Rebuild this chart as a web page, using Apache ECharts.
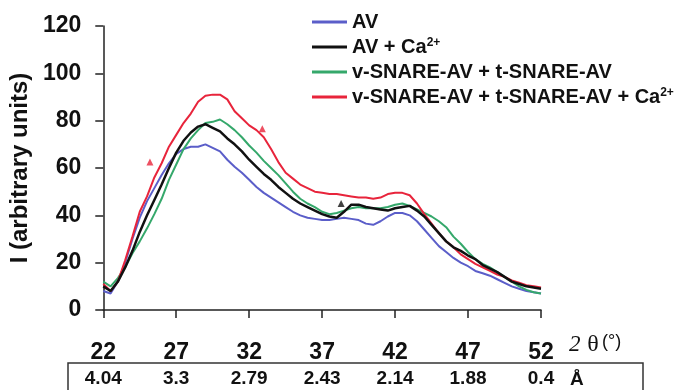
<!DOCTYPE html>
<html>
<head>
<meta charset="utf-8">
<script src="https://cdn.jsdelivr.net/npm/echarts@6/dist/echarts.min.js"></script>
<style>
  html, body { margin: 0; padding: 0; background: #fff; }
  #main { width: 696px; height: 390px; }
</style>
</head>
<body>
<div id="main"></div>
<script>
// 2θ positions (degrees)
const twoTheta = [22, 22.5, 23, 23.5, 24, 24.5, 25, 25.5, 26, 26.5, 27, 27.5, 28, 28.5, 29, 29.5, 30, 30.5, 31, 31.5,
  32, 32.5, 33, 33.5, 34, 34.5, 35, 35.5, 36, 36.5, 37, 37.5, 38, 38.5, 39, 39.5, 40, 40.5, 41, 41.5,
  42, 42.5, 43, 43.5, 44, 44.5, 45, 45.5, 46, 46.5, 47, 47.5, 48, 48.5, 49, 49.5, 50, 50.5, 51, 51.5, 52];

const av = [8, 7, 12, 20, 30, 39, 46, 51.5, 57, 62, 66, 68, 69, 69, 70, 68.5, 67, 63.5, 60.5, 58,
  55, 52, 49.5, 47.5, 45.5, 43.5, 41.5, 40, 39, 38.5, 38, 38, 38.5, 39, 38.5, 38, 36.5, 36, 37.5, 39.5,
  41, 41, 40, 37.5, 34, 30.5, 27, 24.5, 22, 20, 18.5, 16.5, 15.5, 14.5, 13, 11.5, 10, 9, 8, 7.5, 7];

const avCa = [10, 8, 12, 18, 25, 33, 40, 46.5, 53, 60, 66.5, 71.5, 75, 77.5, 78.5, 77, 75.5, 72.5, 70, 67,
  63.5, 60.5, 57.5, 55, 52, 49.5, 47, 45, 43.5, 42, 40.5, 39.5, 39, 41.5, 44.5, 44.5, 43.5, 43, 42.5, 42,
  43, 43.5, 44, 42, 39.5, 36, 32.5, 29, 26.5, 25, 23, 21.5, 19, 17.5, 16, 14, 12, 11, 10, 9.5, 9];

const vtSnare = [12, 10, 13.5, 18, 24, 29, 34.5, 40.5, 47, 55, 61.5, 68, 72.5, 76, 79, 79.5, 80.5, 78.5, 76, 73,
  69.5, 66.5, 63, 60, 57, 53.5, 50, 47, 45, 43.5, 41.5, 40.5, 41, 42, 43, 43.5, 43, 43, 43, 43.5,
  44.5, 45, 44, 42.5, 41, 39.5, 37.5, 35, 31, 28, 24.5, 21.5, 19.5, 18, 16, 14, 12, 10, 8.5, 7.5, 7];

const vtSnareCa = [11, 8, 12, 21, 31, 41.5, 48, 56, 62, 69, 74, 79, 83, 88, 90.5, 91, 91, 89, 84, 81,
  78, 76, 73, 68, 62.5, 58, 55.5, 53, 51.5, 50, 49.5, 49, 49, 48.5, 48, 47.5, 47.5, 47, 47.5, 49,
  49.5, 49.5, 48.5, 45, 40.5, 36.5, 32.5, 29, 26.5, 23.5, 21.5, 19.5, 18, 16.5, 15, 14, 12.5, 11.5, 10.5, 10, 9.5];

// arrow marks on the curves
const redMarks = [[25.2, 62.5], [32.9, 76.6]];
const blackMarks = [[38.3, 45]];

const xTicks = [22, 27, 32, 37, 42, 47, 52];
const dSpacing = ['4.04', '3.3', '2.79', '2.43', '2.14', '1.88', '0.4'];

const seriesNames = ['AV', 'AV + Ca2+', 'v-SNARE-AV + t-SNARE-AV', 'v-SNARE-AV + t-SNARE-AV + Ca2+'];

const pairs = (ys) => twoTheta.map((x, i) => [x, ys[i]]);

const chart = echarts.init(document.getElementById('main'), null, { renderer: 'canvas' });

const FONT = 'Liberation Sans, Arial, sans-serif';
const axisColor = '#222';

const line = (name, data, color, width) => ({
  name: name,
  type: 'line',
  xAxisIndex: 0,
  data: pairs(data),
  symbol: 'none',
  lineStyle: { color: color, width: width },
  itemStyle: { color: color },
  animation: false,
});

// every legend row gets the same rich structure so the rows are evenly spaced
const legendText = (name) =>
  name.endsWith('Ca2+') ? '{t|' + name.slice(0, -2) + '}{sup|2+}' : '{t|' + name + '}{sup| }';

const option = {
  backgroundColor: '#fff',
  animation: false,
  grid: { left: 101, right: 155, top: 26, bottom: 80 },
  legend: {
    data: seriesNames,
    orient: 'vertical',
    left: 307,
    top: 7,
    itemWidth: 35,
    itemHeight: 3,
    itemGap: 5,
    icon: 'rect',
    textStyle: {
      fontFamily: FONT,
      fontWeight: 'bold',
      fontSize: 20,
      color: '#111',
      rich: {
        t: { fontFamily: FONT, fontWeight: 'bold', fontSize: 20, lineHeight: 20, color: '#111' },
        sup: { fontFamily: FONT, fontWeight: 'bold', fontSize: 12, lineHeight: 12, verticalAlign: 'top', color: '#111' },
      },
    },
    formatter: legendText,
  },
  xAxis: [
    {
      type: 'value',
      min: 22,
      max: 52,
      interval: 5,
      axisLine: { show: true, onZero: false, lineStyle: { color: axisColor, width: 1.5 } },
      axisTick: { show: true, length: 8, lineStyle: { color: axisColor, width: 1.5 } },
      splitLine: { show: false },
      axisLabel: {
        margin: 31,
        fontFamily: FONT,
        fontWeight: 'bold',
        fontSize: 23,
        color: '#111',
      },
    },
    {
      type: 'value',
      position: 'bottom',
      min: 22,
      max: 52,
      interval: 5,
      axisLine: { show: false },
      axisTick: { show: false },
      splitLine: { show: false },
      axisLabel: {
        margin: 59,
        fontFamily: FONT,
        fontWeight: 'bold',
        fontSize: 19,
        color: '#111',
        formatter: (v) => dSpacing[xTicks.indexOf(v)] || '',
      },
    },
  ],
  yAxis: {
    type: 'value',
    min: 0,
    max: 120,
    interval: 20,
    name: 'I (arbitrary units)',
    nameLocation: 'middle',
    nameGap: 71,
    nameTextStyle: { fontFamily: FONT, fontWeight: 'bold', fontSize: 24, color: '#111' },
    axisLine: { show: true, lineStyle: { color: axisColor, width: 1.5 } },
    axisTick: { show: true, length: 8, lineStyle: { color: axisColor, width: 1.5 } },
    splitLine: { show: false },
    axisLabel: { margin: 22, fontFamily: FONT, fontWeight: 'bold', fontSize: 23, color: '#111' },
  },
  graphic: [
    {
      type: 'rect',
      shape: { x: 68, y: 363, width: 575, height: 40 },
      style: { fill: 'none', stroke: '#333', lineWidth: 1.5 },
    },
    {
      type: 'text',
      left: 570,
      top: 370,
      style: { text: 'Å', font: 'bold 19px Liberation Sans, Arial, sans-serif', fill: '#111' },
    },
    {
      type: 'text',
      left: 569,
      top: 333,
      style: {
        text: '{a|2}  {b|θ} {c|(°)}',
        rich: {
          a: { font: 'italic 23px Liberation Serif, serif', fill: '#111', lineHeight: 24 },
          b: { font: '24px Liberation Serif, serif', fill: '#111', lineHeight: 24 },
          c: { font: '18px Liberation Sans, Arial, sans-serif', fill: '#111', lineHeight: 22, verticalAlign: 'top' },
        },
      },
    },
  ],
  series: [
    line(seriesNames[0], av, '#5b5ec9', 2),
    line(seriesNames[2], vtSnare, '#35a86b', 2),
    line(seriesNames[3], vtSnareCa, '#e8243b', 2),
    line(seriesNames[1], avCa, '#111111', 2.5),
    {
      type: 'scatter',
      data: redMarks,
      symbol: 'triangle',
      symbolSize: 7,
      itemStyle: { color: '#e8243b' },
      silent: true,
    },
    {
      type: 'scatter',
      data: blackMarks,
      symbol: 'triangle',
      symbolSize: 7,
      itemStyle: { color: '#111' },
      silent: true,
    },
  ],
};

chart.setOption(option);
</script>
</body>
</html>
